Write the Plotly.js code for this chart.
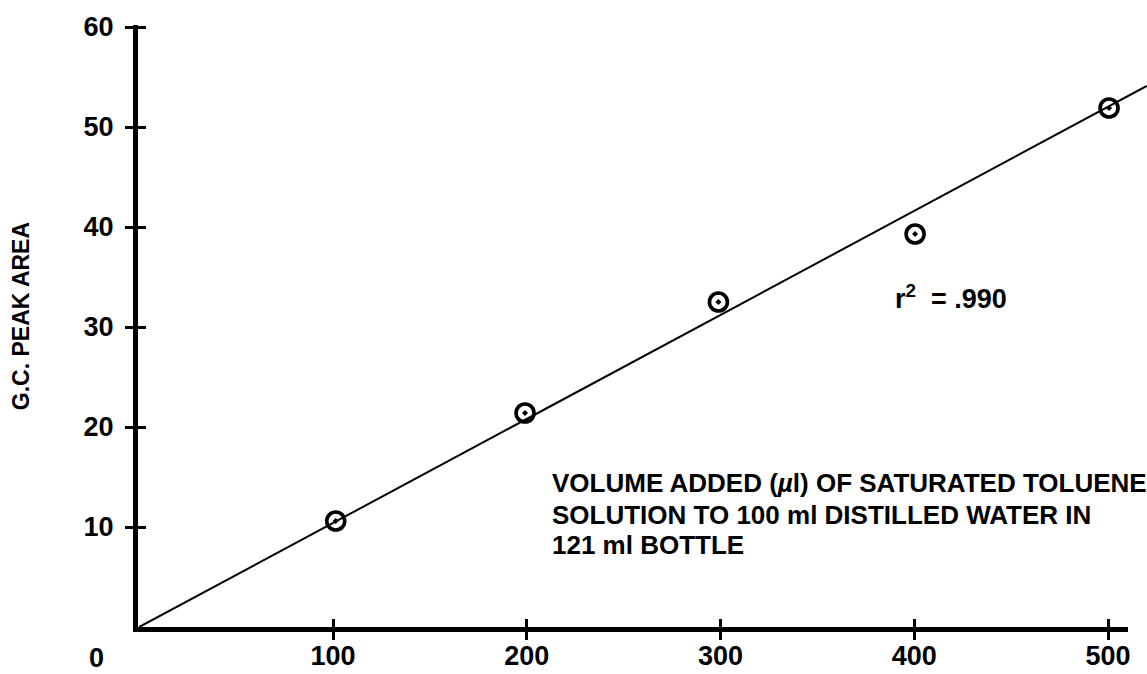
<!DOCTYPE html>
<html>
<head>
<meta charset="utf-8">
<script src="https://cdn.plot.ly/plotly-3.0.1.min.js"></script>
<style>html,body{margin:0;padding:0;background:#fff;}#chart{width:1147px;height:674px;}</style>
</head>
<body>
<div id="chart"></div>
<script>
// Measured data points: volume added (µl) vs G.C. peak area
const volume = [101.4, 199.1, 298.9, 400.4, 500.5];
const peakArea = [10.6, 21.4, 32.5, 39.3, 51.9];
// Regression line (through origin), extends past the last tick
const fitX = [0, 520];
const fitY = [0, 54.1];
// Axis ticks
const xTicks = [100, 200, 300, 400, 500];
const yTicks = [10, 20, 30, 40, 50, 60];
const yTitle = 'G.C. PEAK AREA';
const xTitleLines = ['VOLUME ADDED (<i>µ</i>l) OF SATURATED TOLUENE', 'SOLUTION TO 100 ml DISTILLED WATER IN', '121 ml BOTTLE'];
const r2Text = 'r<sup>2</sup>\u00a0\u00a0=\u00a0.990';

const bold = 'Liberation Sans, Arial, sans-serif';

const X_MAIN = [-0.65, 520.1];
const X_AXIS = [-0.65, 510.3];
const Y_RANGE = [0, 60.2];

const traces = [
  {x: fitX, y: fitY, xaxis: 'x', yaxis: 'y2', mode: 'lines', line: {color: '#000', width: 2}, hoverinfo: 'skip'},
  {x: volume, y: peakArea, xaxis: 'x2', yaxis: 'y', mode: 'markers',
   marker: {symbol: 'circle-open-dot', size: 18, color: '#000', line: {width: 3.6, color: '#000'}}, cliponaxis: false}
];

const tickFont = {family: bold, size: 27, color: '#000', weight: 'bold'};

const layout = {
  width: 1147, height: 674,
  margin: {l: 138, r: 0, t: 25, b: 47},
  paper_bgcolor: '#fff', plot_bgcolor: 'rgba(0,0,0,0)',
  showlegend: false,
  // full-width axis: carries the fit line, inside tick marks and the tick labels
  xaxis: {domain: [0, 1], range: X_MAIN, anchor: 'y2', showgrid: false, zeroline: false, showline: false,
    tickvals: xTicks, ticktext: xTicks.map(String), ticks: 'inside', ticklen: 8, tickwidth: 3, tickcolor: '#000',
    tickfont: tickFont, ticklabelstandoff: 10},
  // drawn axis line ending just past 500, with outside tick marks
  xaxis2: {domain: [0, 0.9812], range: X_AXIS, anchor: 'y', showgrid: false, zeroline: false,
    showline: true, linewidth: 5, linecolor: '#000',
    tickvals: xTicks, showticklabels: false, ticks: 'outside', ticklen: 8, tickwidth: 3, tickcolor: '#000'},
  yaxis: {domain: [0, 1], range: Y_RANGE, anchor: 'x2', showgrid: false, zeroline: false,
    showline: true, linewidth: 5, linecolor: '#000',
    tickvals: yTicks, ticktext: yTicks.map(String), ticks: 'outside', ticklen: 8, tickwidth: 3, tickcolor: '#000',
    tickfont: tickFont, ticklabelstandoff: 6},
  yaxis2: {overlaying: 'y', range: Y_RANGE, anchor: 'x', showgrid: false, zeroline: false, showline: false,
    tickvals: yTicks, showticklabels: false, ticks: 'inside', ticklen: 8, tickwidth: 3, tickcolor: '#000'},
  annotations: [
    {text: yTitle, xref: 'paper', yref: 'paper', x: -0.1165, y: 0.517, textangle: -90, showarrow: false,
     xanchor: 'center', yanchor: 'middle', font: {family: bold, size: 23, color: '#000', weight: 'bold'}},
    {text: '0', xref: 'paper', yref: 'paper', x: -0.041, y: -0.052, showarrow: false,
     xanchor: 'center', yanchor: 'middle', font: {family: bold, size: 27, color: '#000', weight: 'bold'}},
    {text: r2Text, xref: 'paper', yref: 'paper', x: 0.806, y: 0.548, showarrow: false,
     xanchor: 'center', yanchor: 'middle', font: {family: bold, size: 27, color: '#000', weight: 'bold'}},
    {text: xTitleLines[0], xref: 'paper', yref: 'paper', x: 0.408, y: 0.2385, showarrow: false,
     xanchor: 'left', yanchor: 'middle', font: {family: bold, size: 26, color: '#000', weight: 'bold'}},
    {text: xTitleLines[1], xref: 'paper', yref: 'paper', x: 0.408, y: 0.1855, showarrow: false,
     xanchor: 'left', yanchor: 'middle', font: {family: bold, size: 26, color: '#000', weight: 'bold'}},
    {text: xTitleLines[2], xref: 'paper', yref: 'paper', x: 0.408, y: 0.1357, showarrow: false,
     xanchor: 'left', yanchor: 'middle', font: {family: bold, size: 26, color: '#000', weight: 'bold'}}
  ]
};

Plotly.newPlot('chart', traces, layout, {displayModeBar: false, staticPlot: true});
</script>
</body>
</html>
